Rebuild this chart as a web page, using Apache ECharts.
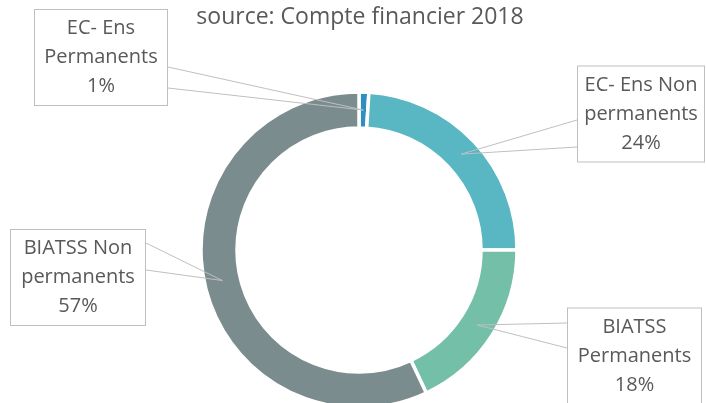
<!DOCTYPE html>
<html>
<head>
<meta charset="utf-8">
<script src="https://cdn.jsdelivr.net/npm/echarts@6/dist/echarts.min.js"></script>
<style>html,body{margin:0;padding:0;background:#fff}#c{width:706px;height:403px}</style>
</head>
<body>
<div id="c"></div>
<script>
const titleText = 'source: Compte financier 2018';
const categories = ['EC- Ens\nPermanents', 'EC- Ens Non\npermanents', 'BIATSS\nPermanents', 'BIATSS Non\npermanents'];
const values = [1, 24, 18, 57];
const colors = ['#2E90C2', '#58B7C3', '#74BFA7', '#7B8C8E'];

// layout (box centre, size, wedge base points on box edge)
const CX = 359, CY = 250, R_IN = 122, R_OUT = 158;
const boxes = [
  {cx: 101, cy: 57.5, w: 134, bx: 168, by: [67, 88]},
  {cx: 641, cy: 114, w: 128, bx: 577, by: [120, 147]},
  {cx: 634.5, cy: 356, w: 135, bx: 567, by: [323, 348]},
  {cx: 78, cy: 277.5, w: 136, bx: 146, by: [243, 270]}
];

const total = values.reduce((a, b) => a + b, 0);
function tipPoint(i) {
  let cum = 0;
  for (let k = 0; k < i; k++) cum += values[k];
  const ang = (cum + values[i] / 2) / total * Math.PI * 2;
  const r = (R_IN + R_OUT) / 2;
  return [CX + r * Math.sin(ang), CY - r * Math.cos(ang)];
}
function makeLayout(which) {
  return function (p) {
    const b = boxes[p.dataIndex];
    const t = tipPoint(p.dataIndex);
    const e = [b.bx, b.by[which]];
    return {
      x: b.cx, y: b.cy, align: 'center', verticalAlign: 'middle',
      labelLinePoints: [t, [(t[0] + e[0]) / 2, (t[1] + e[1]) / 2], e]
    };
  };
}

const font = '"Open Sans", sans-serif';
function labelFor(i, visible) {
  return {
    show: true,
    position: 'outside',
    formatter: function (p) { return categories[p.dataIndex] + '\n' + p.value + '%'; },
    width: boxes[i].w - 10,
    padding: [5, 4, 3, 4],
    lineHeight: 29,
    fontSize: 20,
    fontFamily: font,
    align: 'center',
    color: visible ? '#595959' : 'rgba(0,0,0,0)',
    backgroundColor: visible ? '#fff' : 'rgba(0,0,0,0)',
    borderColor: visible ? '#BFBFBF' : 'rgba(0,0,0,0)',
    borderWidth: 1
  };
}
function guideSeries(which, visible, z) {
  return {
    type: 'pie', z: z,
    center: [CX, CY], radius: [R_IN, R_OUT],
    startAngle: 90, clockwise: true, silent: true,
    data: values.map((v, i) => ({value: v, name: categories[i], label: labelFor(i, visible),
      itemStyle: {color: 'rgba(0,0,0,0)', borderWidth: 0}})),
    labelLine: {show: true, lineStyle: {color: '#BFBFBF', width: 1}},
    labelLayout: makeLayout(which)
  };
}

const chart = echarts.init(document.getElementById('c'));
chart.setOption({
  animation: false,
  title: {
    text: titleText, left: 355, top: 1, textAlign: 'center',
    textStyle: {fontFamily: font, fontSize: 23, fontWeight: 'normal', color: '#595959'}
  },
  series: [
    {
      type: 'pie', z: 2,
      center: [CX, CY], radius: [R_IN, R_OUT],
      startAngle: 90, clockwise: true, silent: true,
      label: {show: false}, labelLine: {show: false},
      data: values.map((v, i) => ({value: v, name: categories[i],
        itemStyle: {color: colors[i], borderColor: '#fff', borderWidth: 3.5}}))
    },
    guideSeries(1, false, 4),
    guideSeries(0, true, 5)
  ]
});
</script>
</body>
</html>
